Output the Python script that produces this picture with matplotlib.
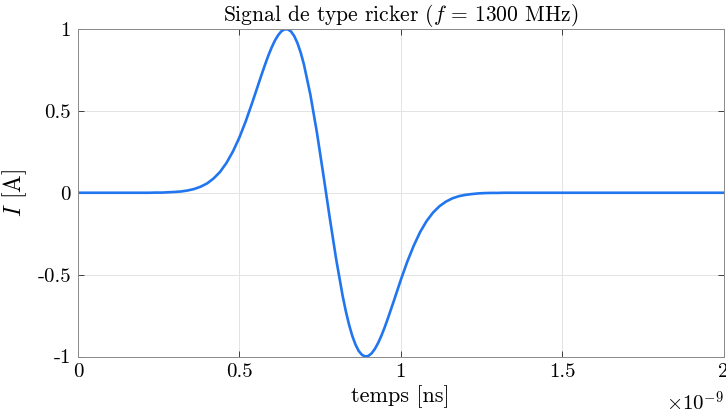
import matplotlib
matplotlib.use("Agg")
import matplotlib.pyplot as plt

# temps en ns (affiché avec le facteur x10^-9)
temps_ns = [0.00, 0.20, 0.22, 0.24, 0.26, 0.28, 0.30, 0.32, 0.34, 0.36, 0.38,
            0.40, 0.42, 0.44, 0.46, 0.48, 0.50, 0.52, 0.54, 0.56, 0.57, 0.58,
            0.59, 0.60, 0.61, 0.62, 0.63, 0.64, 0.65, 0.66, 0.67, 0.68,
            0.69, 0.70, 0.72, 0.74, 0.76, 0.78, 0.80, 0.82, 0.83, 0.84,
            0.85, 0.86, 0.87, 0.88, 0.89, 0.90, 0.91, 0.92, 0.93, 0.94,
            0.95, 0.96, 0.98, 1.00, 1.02, 1.04, 1.06, 1.08, 1.10, 1.12,
            1.14, 1.16, 1.18, 1.20, 1.22, 1.24, 1.26, 1.28, 1.30, 1.32, 2.00]
courant = [0.000, 0.000, 0.000, 0.001, 0.001, 0.003, 0.005, 0.008, 0.014, 0.023, 0.037,
           0.057, 0.087, 0.127, 0.182, 0.252, 0.337, 0.438, 0.551, 0.669, 0.728, 0.785,
           0.839, 0.887, 0.929, 0.962, 0.986, 0.998, 0.998, 0.985, 0.957, 0.914,
           0.856, 0.784, 0.599, 0.371, 0.113, -0.153, -0.407, -0.630, -0.725, -0.807,
           -0.875, -0.928, -0.967, -0.990, -1.000, -0.996, -0.980, -0.953, -0.917, -0.873,
           -0.823, -0.768, -0.652, -0.533, -0.422, -0.324, -0.240, -0.173, -0.121, -0.082,
           -0.054, -0.034, -0.021, -0.013, -0.008, -0.004, -0.002, -0.001, -0.001, 0.000, 0.000]

xticks = [0, 0.5, 1, 1.5, 2]
xtick_labels = ["0", "0.5", "1", "1.5", "2"]
yticks = [-1, -0.5, 0, 0.5, 1]
ytick_labels = ["-1", "-0.5", "0", "0.5", "1"]

plt.rcParams["font.family"] = "serif"
plt.rcParams["font.serif"] = ["cmr10"]
plt.rcParams["mathtext.fontset"] = "cm"
plt.rcParams["axes.unicode_minus"] = False

fig = plt.figure(figsize=(7.26, 4.18), dpi=100)
ax = fig.add_axes([0.1074, 0.1471, 0.8892, 0.7835])

ax.plot(temps_ns, courant, color="#2176f0", linewidth=1.9)

ax.set_xlim(0, 2)
ax.set_ylim(-1, 1)
ax.set_xticks(xticks)
ax.set_xticklabels(xtick_labels)
ax.set_yticks(yticks)
ax.set_yticklabels(ytick_labels)
ax.tick_params(direction="in", top=True, right=True, length=4, width=0.6,
               color="#262626", labelsize=15, pad=5)

ax.grid(True, color="#e3e3e3", linewidth=0.7)
ax.set_axisbelow(True)
for s in ax.spines.values():
    s.set_color("#8a8a8a")
    s.set_linewidth(0.7)

ax.set_title(r"Signal de type ricker ($f\,=\,1300$ MHz)", fontsize=15.5, pad=6)
ax.set_xlabel("temps [ns]", fontsize=16, labelpad=3)
ax.set_ylabel(r"$I$ [A]", fontsize=17, labelpad=6)
ax.text(1.0, -0.14, r"$\times10^{-9}$", transform=ax.transAxes,
        ha="right", va="center", fontsize=15)

fig.savefig("out.png", dpi=100)
